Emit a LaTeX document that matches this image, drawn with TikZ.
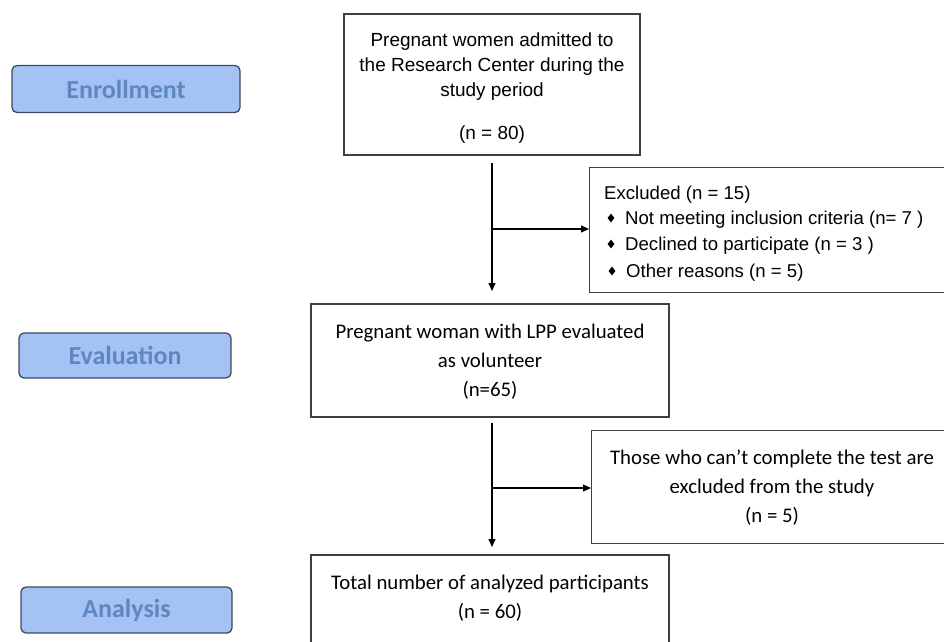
\documentclass[tikz,border=0pt]{standalone}
\usepackage{fontspec}
\setmainfont{Liberation Sans}
\newfontfamily\calib{Carlito}
\usetikzlibrary{arrows.meta,shapes.geometric}
\definecolor{lblfill}{HTML}{A4C2F4}
\definecolor{lbldraw}{HTML}{3D4B5E}
\definecolor{lbltext}{HTML}{5E87C2}
\tikzset{
  x=1pt,y=-1pt,
  stagebox/.style={draw=lbldraw,line width=1.3pt,fill=lblfill,rounded corners=5pt,
    text=lbltext,font=\calib\bfseries\fontsize{26}{30}\selectfont,inner sep=0pt},
  flowbox/.style={draw=black!75,line width=1.2pt,inner sep=0pt},
  arialtxt/.style={font=\fontsize{19}{25}\selectfont,align=center,inner sep=0pt},
  exctxt/.style={font=\fontsize{18.6}{25}\selectfont,anchor=base west,inner sep=0pt},
  calitxt/.style={font=\calib\fontsize{20.8}{29}\selectfont,align=center,inner sep=0pt},
  flowarrow/.style={draw=black,line width=1.1pt,-{Triangle[length=8pt,width=7pt]}},
  bul/.style={diamond,fill=black,inner sep=0pt,minimum width=7pt,minimum height=9pt}
}
\begin{document}
\begin{tikzpicture}
\useasboundingbox (0,0) rectangle (944,641);
% stage labels
\node[stagebox,minimum width=228pt,minimum height=47pt] (enr) at (126,89) {Enrollment};
\node[stagebox,minimum width=212pt,minimum height=45pt] (eva) at (125,355.5) {Evaluation};
\node[stagebox,minimum width=211pt,minimum height=46pt] (ana) at (126.5,610) {Analysis};
% main boxes
\node[flowbox,minimum width=296pt,minimum height=141pt] (b1) at (492,84.5) {};
\node[arialtxt] (t1) at (492,88.5) {Pregnant women admitted to\\the Research Center during the\\study period\\[18pt](n = 80)};
\node[flowbox,minimum width=358pt,minimum height=113pt] (b2) at (490,360.5) {};
\node[calitxt] (t2) at (490,362) {Pregnant woman with LPP evaluated\\as volunteer\\(n=65)};
\node[flowbox,minimum width=358pt,minimum height=100pt] (b4) at (490,605) {};
\node[calitxt] (t4) at (490,598) {Total number of analyzed participants\\(n = 60)};
% exclusion boxes
\node[flowbox,minimum width=370pt,minimum height=125pt,anchor=north west] (ex1) at (589,167) {};
\node[exctxt] (ex1h) at (604,199) {Excluded (n = 15)};
\node[bul] (d1) at (611,218) {};
\node[bul] (d2) at (611,244) {};
\node[bul] (d3) at (612,271) {};
\node[exctxt] (ex1a) at (625,224) {Not meeting inclusion criteria (n= 7 )};
\node[exctxt] (ex1b) at (625,250) {Declined to participate (n = 3 )};
\node[exctxt] (ex1c) at (626,277) {Other reasons (n = 5)};
\node[flowbox,minimum width=360pt,minimum height=113pt,anchor=north west] (ex2) at (591,430) {};
\node[calitxt] (t3) at (772,488) {Those who can’t complete the test are\\excluded from the study\\(n = 5)};
% connectors
\coordinate (s1) at (492,163);
\coordinate (e1) at (492,291);
\coordinate (m1) at (492,229);
\coordinate (s2) at (492,423);
\coordinate (e2) at (492,547);
\coordinate (m2) at (492,488);
\draw[flowarrow] (s1) -- (e1);
\draw[flowarrow] (m1) -- (m1 -| ex1.west);
\draw[flowarrow] (s2) -- (e2);
\draw[flowarrow] (m2) -- (m2 -| ex2.west);
\end{tikzpicture}
\end{document}
